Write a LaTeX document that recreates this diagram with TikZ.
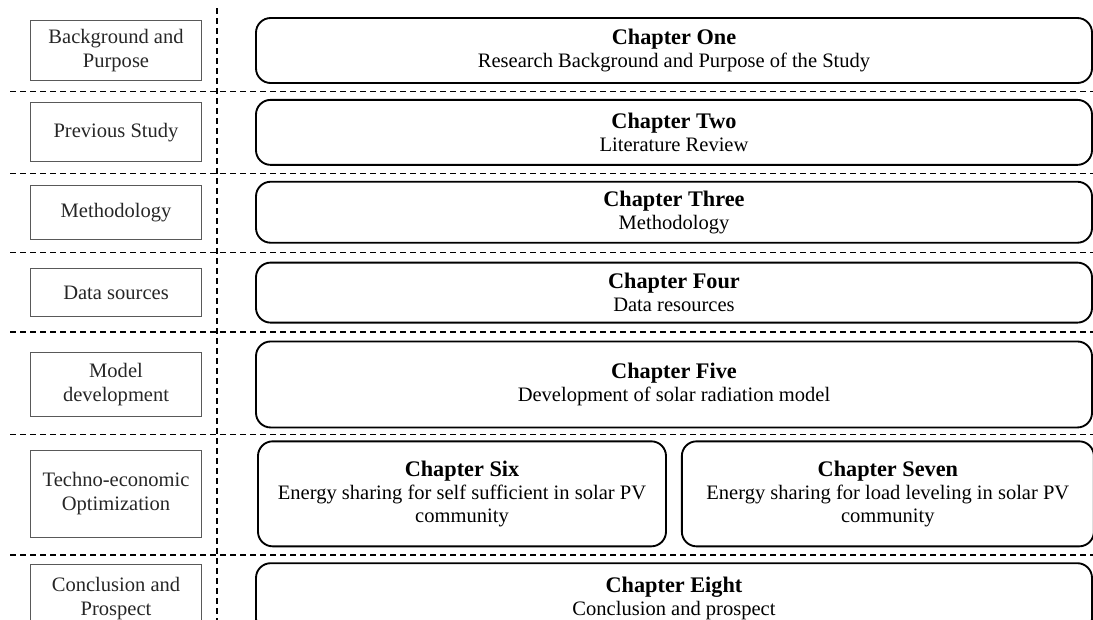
\documentclass[tikz,border=0pt]{standalone}
\usepackage{fontspec}
\setmainfont{Liberation Serif}
\usepackage{tikz}
\usetikzlibrary{positioning,calc}
\newcommand\chtitle[1]{{\fontsize{16.7}{17.5}\selectfont\bfseries #1}}

\begin{document}
\begin{tikzpicture}[x=0.75pt, y=-0.75pt,
  chapter/.style={draw=black, line width=1.4pt, rounded corners=11pt, align=center,
    font=\fontsize{15.4}{17.5}\selectfont, minimum width=627pt},
  topic/.style={draw=black!65, line width=0.8pt, align=center, text=black!85,
    font=\fontsize{15.4}{18}\selectfont, minimum width=128.25pt},
  divider/.style={line width=1.2pt, dash pattern=on 4.5pt off 3pt}]
  \useasboundingbox (0,0) rectangle (1093,619);
  % chapters
  \node[chapter, minimum height=48.75pt] at (674,50.5)
    (ch1) {\chtitle{Chapter One}\\ Research Background and Purpose of the Study};
  \node[chapter, minimum height=48.75pt, below=11.25pt of ch1]
    (ch2) {\chtitle{Chapter Two}\\ Literature Review};
  \node[chapter, minimum height=45.75pt, below=11.25pt of ch2]
    (ch3) {\chtitle{Chapter Three}\\ Methodology};
  \node[chapter, minimum height=45pt, below=13.5pt of ch3]
    (ch4) {\chtitle{Chapter Four}\\ Data resources};
  \node[chapter, minimum height=64.5pt, below=12.75pt of ch4]
    (ch5) {\chtitle{Chapter Five}\\ Development of solar radiation model};
  \node[chapter, minimum width=306pt, minimum height=78.75pt, below=9pt of ch5.south west, anchor=north west, xshift=1.5pt]
    (ch6) {\chtitle{Chapter Six}\\ Energy sharing for self sufficient in solar PV\\ community};
  \node[chapter, minimum width=309pt, minimum height=78.75pt, right=10.5pt of ch6]
    (ch7) {\chtitle{Chapter Seven}\\ Energy sharing for load leveling in solar PV\\ community};
  \node[chapter, minimum height=52.5pt, below=11.25pt of ch6.south west, anchor=north west, xshift=-1.5pt]
    (ch8) {\chtitle{Chapter Eight}\\ Conclusion and prospect};
  % topics
  \node[topic, minimum height=45pt, left=39.75pt of ch1] (bg) {Background and\\ Purpose};
  \node[topic, minimum height=44.25pt, left=39.75pt of ch2] (prev) {Previous Study};
  \node[topic, minimum height=40.5pt, left=39.75pt of ch3] (meth) {Methodology};
  \node[topic, minimum height=36pt, left=39.75pt of ch4] (data) {Data sources};
  \node[topic, minimum height=48pt, left=39.75pt of ch5] (model) {Model\\ development};
  \node[topic, minimum height=65.25pt, left=41.25pt of ch6] (opt) {Techno-economic\\ Optimization};
  \node[topic, minimum height=51pt, left=39.75pt of ch8] (concl) {Conclusion and\\ Prospect};
  % dividers
  \coordinate (lft) at (10,0);
  \coordinate (rgt) at (1093,0);
  \path ($(ch1.south)!.5!(ch2.north)$) coordinate (d1);
  \path ($(ch2.south)!.5!(ch3.north)$) coordinate (d2);
  \path ($(ch3.south)!.5!(ch4.north)$) coordinate (d3);
  \path ($(ch4.south)!.5!(ch5.north)$) coordinate (d4);
  \path ($(ch5.south)!.5!(ch6.north)$) coordinate (d5);
  \path ($(ch6.south)!.5!(ch8.north)$) coordinate (d6);
  \draw[divider] (lft |- d1) -- (rgt |- d1);
  \draw[divider] (lft |- d2) -- (rgt |- d2);
  \draw[divider] (lft |- d3) -- (rgt |- d3);
  \draw[divider] (lft |- d4) -- (rgt |- d4);
  \draw[divider] (lft |- d5) -- (rgt |- d5);
  \draw[divider] (lft |- d6) -- (rgt |- d6);
  \draw[divider] (217,8) -- (217,625);
\end{tikzpicture}
\end{document}
